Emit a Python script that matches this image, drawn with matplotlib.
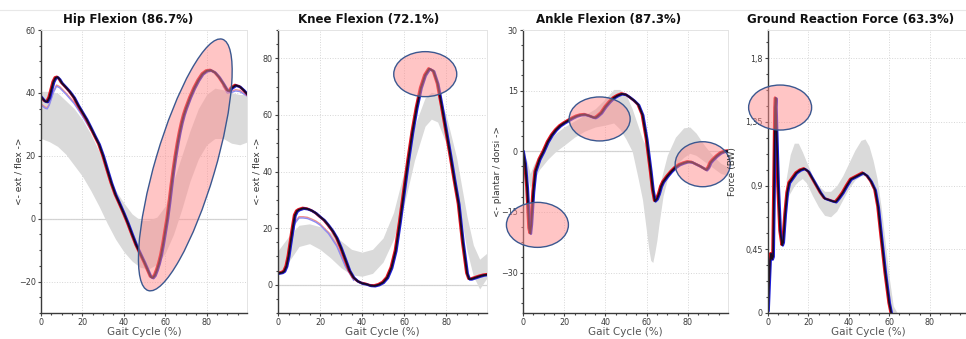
import matplotlib
matplotlib.use("Agg")
import matplotlib.pyplot as plt
import matplotlib.transforms as mtransforms
from matplotlib.lines import Line2D
from matplotlib.patches import Ellipse
from matplotlib.ticker import AutoMinorLocator, FixedLocator

# ── Gait curves (% gait cycle vs. value) ─────────────────────────
hip_x = [0, 1, 2, 3, 4, 5, 6, 7, 8, 9, 10, 12, 14, 16, 18, 20, 22, 24, 26, 28,
         30, 32, 34, 36, 38, 40, 42, 44, 46, 48, 50, 52, 53, 54, 55, 56, 57, 58,
         59, 60, 61, 62, 63, 64, 65, 66, 67, 68, 69, 70, 72, 74, 76, 78, 80, 82,
         84, 86, 88, 90, 91, 92, 94, 96, 98, 100]
hip_y = [38.8, 38.0, 37.3, 37.2, 38.5, 41.0, 43.5, 44.8, 45.0, 44.3, 43.2, 41.8,
         40.3, 38.5, 36.0, 33.8, 31.6, 29.0, 26.3, 23.7, 20.0, 15.6, 11.3, 7.6,
         4.7, 1.7, -1.5, -5.0, -8.4, -11.2, -14.0, -17.0, -18.5, -18.8, -18.0,
         -16.3, -14.2, -11.5, -8.0, -4.0, 0.0, 5.0, 10.5, 15.5, 20.0, 24.0, 27.5,
         30.5, 33.0, 35.0, 38.5, 41.5, 44.0, 46.0, 47.0, 47.2, 46.5, 45.0, 43.0,
         40.8, 40.6, 41.5, 42.4, 42.0, 40.8, 39.3]
hip_alt_x = [0, 2, 3, 4, 6, 7.5, 9, 12, 16, 20, 24]
hip_alt_y = [36.5, 35.5, 35.3, 36.5, 40.5, 42.5, 42.0, 40.0, 37.0, 33.0, 28.6]
hip_alt2_x = [88, 90, 92, 94, 96, 98, 100]
hip_alt2_y = [42.5, 40.3, 40.5, 41.0, 40.8, 40.0, 39.2]
hip_band_x = [0, 4, 8, 12, 16, 20, 24, 28, 32, 36, 40, 44, 48, 52, 56, 60, 64,
              68, 72, 76, 80, 84, 88, 92, 96, 100]
hip_band_lo = [25.5, 24.5, 23.0, 20.5, 17.0, 13.5, 9.0, 4.0, -1.5, -6.5, -10.5,
               -13.5, -15.5, -16.0, -14.5, -11.0, -5.0, 3.0, 12.0, 19.0, 23.5,
               25.5, 25.5, 24.0, 23.5, 24.5]
hip_band_hi = [40.5, 40.5, 40.0, 37.5, 35.0, 31.5, 27.0, 21.5, 14.5, 9.0, 5.0,
               1.5, -0.5, -0.5, 0.5, 4.0, 12.0, 20.0, 28.0, 35.0, 39.5, 41.5,
               41.0, 40.0, 39.5, 39.5]

knee_x = [0, 2, 3, 4, 5, 6, 7, 8, 9, 10, 12, 14, 16, 18, 20, 22, 24, 26, 28, 30,
          32, 34, 36, 38, 40, 42, 44, 46, 48, 50, 52, 54, 56, 58, 60, 62, 64, 66,
          68, 70, 72, 74, 76, 78, 80, 82, 84, 86, 88, 90, 91, 92, 94, 96, 98, 100]
knee_y = [4.0, 4.3, 4.8, 6.5, 10.0, 15.0, 20.0, 24.5, 26.0, 26.5, 27.0, 26.8,
          26.2, 25.3, 24.0, 22.8, 21.0, 19.0, 16.5, 13.0, 9.0, 5.0, 2.5, 1.2,
          0.5, 0.2, -0.3, -0.4, 0.0, 0.8, 2.5, 6.0, 12.0, 22.0, 33.0, 44.0,
          54.0, 62.5, 69.5, 74.0, 76.3, 75.5, 71.0, 63.0, 54.5, 46.0, 37.0,
          28.5, 15.0, 4.0, 2.0, 2.0, 2.5, 3.0, 3.4, 3.6]
knee_alt_x = [6, 8, 10, 12, 14, 16, 18, 20, 24, 28, 32, 36]
knee_alt_y = [14.0, 22.0, 24.0, 24.0, 23.8, 23.2, 22.5, 21.5, 18.5, 14.0, 7.0, 2.0]
knee_band_x = [0, 5, 10, 15, 20, 25, 30, 35, 40, 45, 50, 55, 60, 65, 70, 73, 76,
               80, 85, 90, 93, 96, 100]
knee_band_lo = [3.5, 8.0, 13.5, 14.5, 12.5, 9.5, 6.0, 3.5, 3.0, 4.0, 8.0, 16.0,
                28.0, 44.0, 56.0, 58.5, 57.5, 50.0, 33.0, 12.0, 3.0, -1.5, 3.0]
knee_band_hi = [12.0, 17.0, 21.0, 21.5, 20.5, 18.5, 15.5, 12.5, 11.5, 12.5,
                16.5, 25.5, 40.0, 56.0, 66.0, 68.0, 67.5, 60.0, 45.0, 24.0,
                14.0, 9.0, 11.5]

ankle_x = [0, 1, 2, 3, 3.5, 4, 5, 6, 7, 8, 10, 12, 14, 16, 18, 20, 22, 24, 26,
           28, 30, 32, 34, 35, 36, 38, 40, 42, 44, 46, 48, 50, 52, 54, 56, 58,
           59, 60, 61, 62, 63, 64, 65, 66, 67, 68, 70, 72, 74, 76, 78, 80, 82,
           84, 86, 88, 89, 90, 91, 92, 94, 96, 98, 100]
ankle_y = [0.0, -3.0, -9.0, -19.0, -20.3, -18.0, -10.0, -5.0, -3.5, -2.0, 0.0,
           2.3, 4.0, 5.3, 6.3, 7.0, 7.6, 8.2, 8.7, 9.0, 9.1, 8.8, 8.4, 8.3, 8.6,
           9.5, 11.0, 12.2, 13.2, 13.8, 14.2, 14.0, 13.3, 12.5, 11.5, 9.0, 6.0,
           3.0, -1.0, -5.0, -9.5, -12.3, -11.8, -10.5, -8.7, -7.6, -6.2, -5.0,
           -4.0, -3.3, -2.9, -2.6, -2.7, -3.2, -3.7, -4.3, -4.6, -4.0, -2.8,
           -2.2, -1.2, -0.4, 0.0, 0.1]
ankle_band_x = [0, 2, 3.5, 5, 8, 12, 16, 20, 25, 30, 35, 40, 44, 47, 50, 53, 56,
                58, 60, 61, 62, 63, 64, 65, 66, 68, 70, 74, 78, 81, 84, 88, 92,
                96, 100]
ankle_band_lo = [-1.5, -6.0, -9.0, -7.5, -4.5, -2.0, 0.0, 1.5, 3.5, 5.0, 6.0,
                 6.5, 7.0, 5.5, 3.0, 0.0, -7.0, -12.0, -20.0, -24.0, -27.0,
                 -27.5, -25.0, -22.0, -18.0, -11.0, -7.0, -3.5, -1.5, -0.5,
                 -1.0, -2.5, -4.0, -5.5, -6.0]
ankle_band_hi = [0.0, -2.5, -5.5, -3.5, -0.5, 2.5, 4.5, 6.0, 7.5, 9.0, 10.5,
                 13.0, 15.3, 15.3, 14.0, 10.5, 6.0, 3.0, 1.0, 0.0, -5.0, -8.5,
                 -11.0, -11.0, -9.0, -5.0, -1.0, 3.5, 5.8, 6.0, 4.5, 1.5, -1.0,
                 -3.0, -4.0]

grf_x = [0, 0.5, 1, 1.5, 2, 2.5, 3, 3.5, 3.8, 4.2, 5, 6, 7, 7.5, 8.5, 9.5, 10.5,
         12, 14, 16, 18, 20, 22, 24, 26, 28, 30, 32, 33.5, 35, 37, 39, 41, 43,
         45, 47, 49, 51, 53, 54.5, 56, 58, 60, 61, 62]
grf_y = [0.02, 0.2, 0.37, 0.42, 0.38, 0.4, 0.9, 1.45, 1.52, 1.3, 0.9, 0.58,
         0.48, 0.5, 0.7, 0.85, 0.92, 0.95, 0.99, 1.01, 1.02, 1.0, 0.95, 0.9,
         0.85, 0.81, 0.8, 0.79, 0.785, 0.81, 0.85, 0.9, 0.945, 0.96, 0.975,
         0.99, 0.97, 0.93, 0.87, 0.75, 0.55, 0.29, 0.07, 0.0, -0.05]
grf_band_x = [9, 11, 13, 15, 17, 19, 22, 25, 28, 31, 34, 37, 40, 43, 46, 48, 50,
              52, 54, 56, 58, 60, 62, 64]
grf_band_lo = [0.8, 0.85, 0.9, 0.93, 0.95, 0.92, 0.83, 0.75, 0.69, 0.68, 0.72,
               0.8, 0.88, 0.94, 0.97, 0.97, 0.94, 0.88, 0.75, 0.5, 0.22, 0.02,
               -0.05, -0.05]
grf_band_hi = [0.95, 1.12, 1.2, 1.2, 1.14, 1.07, 0.97, 0.9, 0.86, 0.86, 0.9,
               0.97, 1.06, 1.15, 1.22, 1.23, 1.18, 1.08, 0.95, 0.75, 0.5, 0.25,
               0.05, 0.0]

titles = ["Hip Flexion (86.7%)", "Knee Flexion (72.1%)",
          "Ankle Flexion (87.3%)", "Ground Reaction Force (63.3%)"]
ylabels = ["<- ext / flex ->", "<- ext / flex ->",
           "<- plantar / dorsi ->", "Force (BW)"]

W, H = 966, 339
RED, BLUE, DARK = "#e3101c", "#1c1cd8", "#1e0a1e"
BAND = "#dadada"


def px_rect(left, right, top=30, bottom=313):
    return [left / W, 1 - bottom / H, (right - left) / W, (bottom - top) / H]


def style_axes(ax, ylim, yticks, yticklabels=None):
    ax.set_xlim(0, 99.5)
    ax.set_ylim(*ylim)
    ax.xaxis.set_major_locator(FixedLocator([0, 20, 40, 60, 80]))
    ax.yaxis.set_major_locator(FixedLocator(yticks))
    if yticklabels is not None:
        ax.set_yticklabels(yticklabels)
    ax.xaxis.set_minor_locator(AutoMinorLocator(4))
    ax.yaxis.set_minor_locator(AutoMinorLocator(4))
    ax.tick_params(which="both", direction="out", colors="#444444",
                   labelsize=5.8, labelcolor="#3a3a3a", width=0.8)
    ax.tick_params(which="major", length=2.5, pad=1.2)
    ax.tick_params(which="minor", length=1.3)
    for side in ("left", "bottom"):
        ax.spines[side].set_color("#3a3a3a")
        ax.spines[side].set_linewidth(1.0)
    for side in ("top", "right"):
        ax.spines[side].set_color("#e4e4e4")
        ax.spines[side].set_linewidth(0.7)
    ax.grid(True, which="major", color="#d6d6d6", linestyle=":", linewidth=0.7)
    ax.axhline(0, color="#d2d2d2", linewidth=0.9, zorder=0.5)
    ax.set_axisbelow(True)


def draw_trials(ax, x, y, lw=1.3):
    # red and blue trials peek out on either side of the averaged dark trace
    left = mtransforms.offset_copy(ax.transData, fig=ax.figure, x=-0.7, y=0.4,
                                   units="dots")
    right = mtransforms.offset_copy(ax.transData, fig=ax.figure, x=0.7, y=-0.4,
                                    units="dots")
    ax.plot(x, y, color=RED, lw=lw + 0.5, zorder=2, transform=left)
    ax.plot(x, y, color=BLUE, lw=lw + 0.5, zorder=2.2, transform=right)
    ax.plot(x, y, color=DARK, lw=lw, zorder=2.5)


def draw_light(ax, x, y):
    shift = mtransforms.offset_copy(ax.transData, fig=ax.figure, x=0, y=-1.2,
                                    units="dots")
    ax.plot(x, y, color="#f08a8a", lw=1.0, zorder=1.8)
    ax.plot(x, y, color="#8c8cf2", lw=1.0, zorder=1.8, transform=shift)


def highlight(ax, cx, cy, w_px, h_px, angle=0.0):
    # ellipse sized in pixels, anchored at a data point
    tr = ax.figure.dpi_scale_trans + mtransforms.ScaledTranslation(cx, cy, ax.transData)
    e = Ellipse((0, 0), w_px / 100, h_px / 100, angle=angle, transform=tr,
                facecolor=(1.0, 0.55, 0.55, 0.5), edgecolor="#3b5890",
                linewidth=1.0, zorder=5, clip_on=False)
    ax.add_patch(e)


fig = plt.figure(figsize=(W / 100, H / 100), dpi=100)
fig.add_artist(Line2D([0, 1], [1 - 10 / H, 1 - 10 / H], color="#e8e8e8", lw=0.8))

boxes = [(41, 247), (278, 487), (523, 728), (768, 969)]
ylabel_px = [24, 262, 502, 737]
title_px = [128, 369, 609, 851]
axes = [fig.add_axes(px_rect(l, r)) for l, r in boxes]
ax_hip, ax_knee, ax_ankle, ax_grf = axes

# Hip
ax_hip.fill_between(hip_band_x, hip_band_lo, hip_band_hi, color=BAND, lw=0, zorder=1)
draw_light(ax_hip, hip_alt_x, hip_alt_y)
draw_light(ax_hip, hip_alt2_x, hip_alt2_y)
draw_trials(ax_hip, hip_x, hip_y)
style_axes(ax_hip, (-30, 60), [-20, 0, 20, 40, 60])
highlight(ax_hip, 69.7, 17.1, 262, 60, angle=73.6)

# Knee
ax_knee.fill_between(knee_band_x, knee_band_lo, knee_band_hi, color=BAND, lw=0, zorder=1)
draw_light(ax_knee, knee_alt_x, knee_alt_y)
draw_trials(ax_knee, knee_x, knee_y)
style_axes(ax_knee, (-10, 90), [0, 20, 40, 60, 80])
highlight(ax_knee, 70.1, 74.4, 63, 45)

# Ankle
ax_ankle.fill_between(ankle_band_x, ankle_band_lo, ankle_band_hi, color=BAND, lw=0, zorder=1)
draw_trials(ax_ankle, ankle_x, ankle_y)
style_axes(ax_ankle, (-40, 30), [-30, -15, 0, 15, 30])
highlight(ax_ankle, 7.0, -18.2, 62, 45)
highlight(ax_ankle, 37.2, 8.0, 61, 44)
highlight(ax_ankle, 87.2, -3.2, 55, 45)

# Ground reaction force
ax_grf.fill_between(grf_band_x, grf_band_lo, grf_band_hi, color=BAND, lw=0, zorder=1)
draw_trials(ax_grf, grf_x, grf_y, lw=1.2)
style_axes(ax_grf, (0, 2.0), [0, 0.45, 0.9, 1.35, 1.8],
           ["0", "0,45", "0,9", "1,35", "1,8"])
highlight(ax_grf, 6.0, 1.452, 63, 45)

for ax, (l, r), title, ylab, ypx, tpx in zip(axes, boxes, titles, ylabels,
                                              ylabel_px, title_px):
    ax.set_ylabel(ylab, fontsize=6.5, color="#333333")
    ax.yaxis.set_label_coords((ypx - l) / (r - l), 0.5)
    ax.set_xlabel("Gait Cycle (%)", fontsize=7.5, color="#555555")
    ax.xaxis.set_label_coords(0.5, -0.05)
    fig.text(tpx / W, 1 - 20 / H, title, ha="center", va="center",
             fontsize=8.5, fontweight="bold", color="#111111")

fig.savefig("out.png", dpi=100)
